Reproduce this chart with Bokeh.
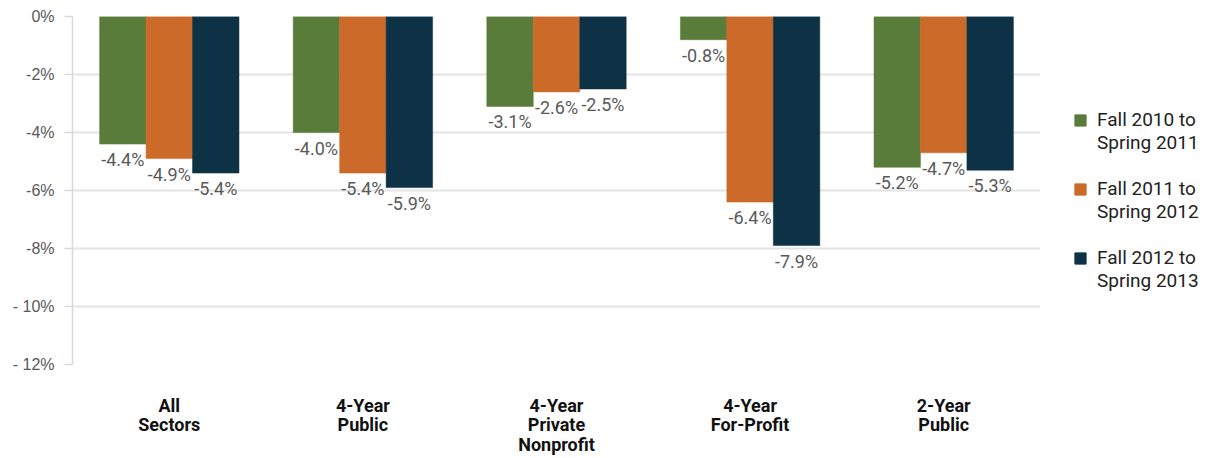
from bokeh.plotting import figure
from bokeh.layouts import row
from bokeh.models import ColumnDataSource, FactorRange, Range1d, FixedTicker, Legend, LegendItem
from bokeh.transform import dodge
from bokeh.core.properties import value
from bokeh.embed import file_html
from bokeh.resources import INLINE

categories = ["All\nSectors", "4-Year\nPublic", "4-Year\nPrivate\nNonprofit", "4-Year\nFor-Profit", "2-Year\nPublic"]
series_line1 = ["Fall 2010 to", "Fall 2011 to", "Fall 2012 to"]
series_line2 = ["Spring 2011", "Spring 2012", "Spring 2013"]
fall2010 = [-4.4, -4.0, -3.1, -0.8, -5.2]
fall2011 = [-4.9, -5.4, -2.6, -6.4, -4.7]
fall2012 = [-5.4, -5.9, -2.5, -7.9, -5.3]
y_ticks = [0, -2, -4, -6, -8, -10, -12]
y_tick_labels = ["0%", "-2%", "-4%", "-6%", "-8%", "- 10%", "- 12%"]
colors = ["#5a7c3b", "#cc6a29", "#0d3145"]

LABEL_FONT = "Roboto"

def fmt(v):
    return "%.1f%%" % v

src = ColumnDataSource(dict(
    cat=categories,
    s0=fall2010, s1=fall2011, s2=fall2012,
    l0=[fmt(v) for v in fall2010], l1=[fmt(v) for v in fall2011], l2=[fmt(v) for v in fall2012],
    zero=[0] * len(categories),
))

p = figure(width=1040, height=458, x_range=FactorRange(*categories, range_padding=0),
           y_range=Range1d(-12, 0), output_backend="svg", toolbar_location=None,
           min_border_left=72, min_border_top=16, min_border_bottom=94, min_border_right=0)
p.outline_line_color = None

offsets = [-0.24, 0.0, 0.24]
for i, (col, lab, c) in enumerate(zip(["s0", "s1", "s2"], ["l0", "l1", "l2"], colors)):
    p.vbar(x=dodge("cat", offsets[i], range=p.x_range), top="zero", bottom=col, width=0.24,
           source=src, fill_color=c, line_color=c, line_width=0.5)
    p.text(x=dodge("cat", offsets[i], range=p.x_range), y=col, text=lab, source=src,
           text_align="center", text_baseline="top", y_offset=5,
           text_font=value(LABEL_FONT), text_font_size="18px", text_color="#595959")

# axes
p.yaxis.ticker = FixedTicker(ticks=y_ticks)
p.yaxis.major_label_overrides = {t: l for t, l in zip(y_ticks, y_tick_labels)}
p.yaxis.axis_line_color = "#d9d9d9"
p.yaxis.axis_line_width = 1.5
p.yaxis.major_tick_line_color = "#d9d9d9"
p.yaxis.major_tick_line_width = 1.5
p.yaxis.major_tick_out = 8
p.yaxis.major_tick_in = 0
p.yaxis.minor_tick_line_color = None
p.yaxis.major_label_text_font = "Liberation Sans"
p.yaxis.major_label_text_font_size = "16px"
p.yaxis.major_label_text_color = "#595959"
p.yaxis.major_label_standoff = 10

p.xaxis.axis_line_color = None
p.xaxis.major_tick_line_color = None
p.xaxis.major_tick_out = 0
p.xaxis.minor_tick_line_color = None
p.xaxis.major_label_standoff = 30
p.xaxis.major_label_text_font = LABEL_FONT
p.xaxis.major_label_text_font_style = "bold"
p.xaxis.major_label_text_font_size = "18px"
p.xaxis.major_label_text_color = "#111111"
p.xaxis.major_label_text_line_height = 0.95

p.xgrid.grid_line_color = None
p.ygrid.grid_line_color = "#e3e3e3"
p.ygrid.grid_line_width = 2

# legend in a narrow side figure
lf = figure(width=176, height=458, x_range=Range1d(0, 1), y_range=Range1d(0, 1),
            x_axis_location=None, y_axis_location=None, output_backend="svg",
            toolbar_location=None, min_border_left=0, min_border_top=16,
            min_border_right=0, min_border_bottom=94)
lf.outline_line_color = None
lf.grid.visible = False
items = []
for c, a, b in zip(colors, series_line1, series_line2):
    # legend-only renderers, placed outside the visible range
    r1 = lf.vbar(x=[5], top=[5], bottom=[6], width=0.1, fill_color=c, line_color=c)
    r2 = lf.vbar(x=[5], top=[5], bottom=[6], width=0.1, fill_alpha=0, line_alpha=0)
    r3 = lf.vbar(x=[5], top=[5], bottom=[6], width=0.1, fill_alpha=0, line_alpha=0)
    items.append(LegendItem(label=a, renderers=[r1]))
    items.append(LegendItem(label=b, renderers=[r2]))
    items.append(LegendItem(label=" ", renderers=[r3]))
items = items[:-1]
legend = Legend(items=items, location=(33, 72), border_line_color=None,
                background_fill_alpha=0, glyph_width=14, glyph_height=14,
                label_text_font=LABEL_FONT, label_text_font_size="19px",
                label_text_color="#222222", label_standoff=10, spacing=0,
                label_height=23, margin=0, padding=0)
lf.add_layout(legend, "center")

open("out.html", "w").write(file_html(row(p, lf), INLINE))
